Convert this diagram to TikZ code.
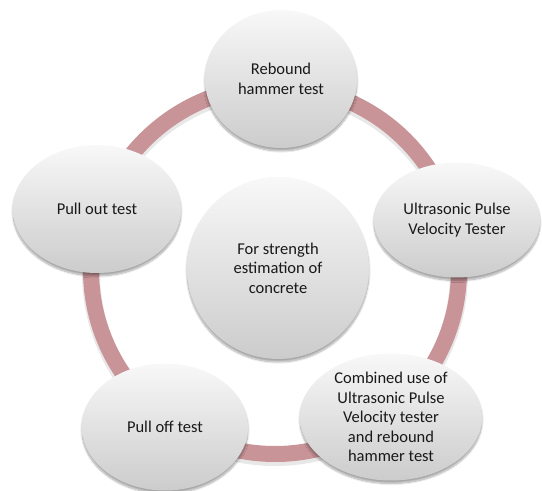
\documentclass[tikz,border=0pt]{standalone}
\usepackage{fontspec}
\setmainfont{Carlito}
\usetikzlibrary{shapes.geometric,shadows.blur,calc}
\definecolor{ringcol}{RGB}{200,148,152}
\definecolor{balltop}{RGB}{248,248,248}
\definecolor{ballbot}{RGB}{204,204,204}
\definecolor{txt}{RGB}{25,25,25}
\tikzset{
  ball/.style={ellipse, inner sep=0pt, top color=balltop, bottom color=ballbot,
    draw=none, align=center, text=txt,
    font=\fontsize{16.5}{19.5}\selectfont,
    blur shadow={shadow xshift=0pt, shadow yshift=-3pt, shadow blur steps=10, shadow opacity=35}},
  ringline/.style={draw=ringcol, line width=16pt}
}
\begin{document}
\begin{tikzpicture}[x=1pt,y=1pt]
\useasboundingbox (0,0) rectangle (542,491);
\coordinate (rc) at (275,221);
\draw[gray, opacity=0.18, line width=18pt] ($(rc)+(0,-3)$) circle[radius=184];
\draw[ringline] (rc) circle[radius=184];
\node[ball, minimum width=182pt, minimum height=182pt] (c) at (278,223) {For strength\\estimation of\\concrete};
\node[ball, minimum width=152pt, minimum height=138pt] (top) at (281,412) {Rebound\\hammer test};
\node[ball, minimum width=166pt, minimum height=115pt] (right) at (457,271) {Ultrasonic Pulse\\Velocity Tester};
\node[ball, minimum width=182pt, minimum height=127pt] (comb) at (391,74) {Combined use of\\Ultrasonic Pulse\\Velocity tester\\and rebound\\hammer test};
\node[ball, minimum width=166pt, minimum height=127pt] (off) at (165,64) {Pull off test};
\node[ball, minimum width=168pt, minimum height=128pt] (out) at (97,282) {Pull out test};
\end{tikzpicture}
\end{document}
